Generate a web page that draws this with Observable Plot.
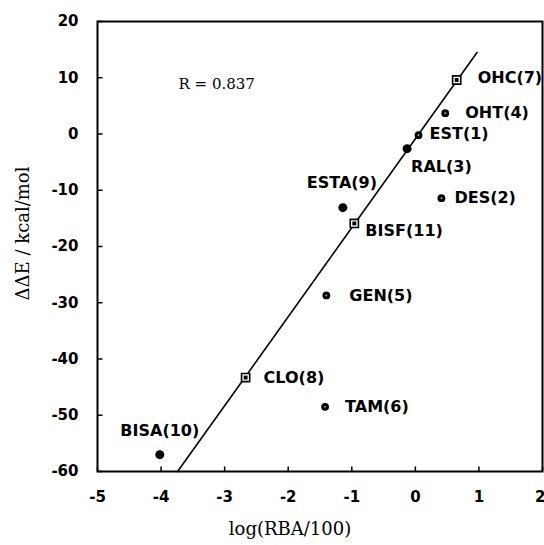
<!DOCTYPE html>
<html>
<head>
<meta charset="utf-8">
<script src="https://cdn.jsdelivr.net/npm/d3@7"></script>
<script src="https://cdn.jsdelivr.net/npm/@observablehq/plot@0.6"></script>
<style>
  html, body { margin: 0; padding: 0; background: #fff; }
  #chart svg { display: block; }
</style>
</head>
<body>
<div id="chart"></div>
<script>
// ---- data ----
const compounds = ["EST(1)", "DES(2)", "RAL(3)", "OHT(4)", "GEN(5)", "TAM(6)", "OHC(7)", "CLO(8)", "ESTA(9)", "BISA(10)", "BISF(11)"];
const logRBA   = [0.05, 0.41, -0.13, 0.47, -1.40, -1.42, 0.65, -2.67, -1.14, -4.02, -0.96];
const deltaE   = [-0.2, -11.4, -2.6, 3.7, -28.7, -48.5, 9.6, -43.3, -13.1, -57.0, -15.9];
const markerKind = ["ring", "ring", "dot", "ring", "ring", "ring", "square", "square", "dot", "dot", "square"];

const fitX = [-3.74, 0.97];
const fitY = [-60, 14.5];

const xTicks = [-5, -4, -3, -2, -1, 0, 1, 2];
const yTicks = [-60, -50, -40, -30, -20, -10, 0, 10, 20];

const rText = "R = 0.837";
const xTitle = "log(RBA/100)";
const yTitle = "\u0394\u0394E / kcal/mol";

// ---- label placement (screen offsets, styling only) ----
const labelPlace = {
  "EST(1)":   {dx: 11, dy: -1, anchor: "start"},
  "DES(2)":   {dx: 13, dy: 0, anchor: "start"},
  "RAL(3)":   {dx: 4, dy: 18, anchor: "start"},
  "OHT(4)":   {dx: 20, dy: 0, anchor: "start"},
  "GEN(5)":   {dx: 23, dy: 0, anchor: "start"},
  "TAM(6)":   {dx: 20, dy: 0, anchor: "start"},
  "OHC(7)":   {dx: 21, dy: -2, anchor: "start"},
  "CLO(8)":   {dx: 18, dy: 0, anchor: "start"},
  "ESTA(9)":  {dx: -1, dy: -25, anchor: "middle"},
  "BISA(10)": {dx: 0, dy: -24, anchor: "middle"},
  "BISF(11)": {dx: 11, dy: 7, anchor: "start"}
};

const points = compounds.map((name, i) => ({name, x: logRBA[i], y: deltaE[i], kind: markerKind[i]}));
const fitLine = fitX.map((x, i) => ({x, y: fitY[i]}));

const labelFont = "DejaVu Sans";
const labelMarks = points.map(p => {
  const pl = labelPlace[p.name];
  return Plot.text([p], {
    x: "x", y: "y", text: "name",
    dx: pl.dx, dy: pl.dy, textAnchor: pl.anchor,
    fontFamily: labelFont, fontWeight: "bold", fontSize: 16, fill: "black"
  });
});

// inward tick symbols
const tickRight = {draw(ctx) { ctx.moveTo(0, 0); ctx.lineTo(5, 0); }};
const tickUp = {draw(ctx) { ctx.moveTo(0, 0); ctx.lineTo(0, -5); }};

const xLabelTicks = xTicks.slice(0, -1);
const xLastTick = xTicks.slice(-1);

const chart = Plot.plot({
  width: 544,
  height: 545,
  marginLeft: 97,
  marginRight: 2,
  marginTop: 21,
  marginBottom: 74,
  style: {fontFamily: "DejaVu Sans", fontSize: "15px", fontWeight: "bold", color: "black", background: "white"},
  x: {domain: [-5, 2]},
  y: {domain: [-60, 20]},
  marks: [
    Plot.axisX({ticks: xLabelTicks, tickSize: 0, tickPadding: 20, tickFormat: d => String(d), label: null, fontSize: 15}),
    Plot.text(xLastTick, {x: d => d, frameAnchor: "bottom", text: d => String(d), textAnchor: "end", dx: 3, dy: 20, lineAnchor: "top",
      fontFamily: "DejaVu Sans", fontWeight: "bold", fontSize: 15}),
    Plot.axisY({ticks: yTicks, tickSize: 0, tickPadding: 19, tickFormat: d => String(d), label: null, fontSize: 15}),
    Plot.dot(yTicks, {y: d => d, frameAnchor: "left", symbol: tickRight, stroke: "black", strokeWidth: 1.5, fill: "none"}),
    Plot.dot(xTicks, {x: d => d, frameAnchor: "bottom", symbol: tickUp, stroke: "black", strokeWidth: 1.5, fill: "none"}),
    Plot.frame({stroke: "black", strokeWidth: 2}),
    Plot.line(fitLine, {x: "x", y: "y", stroke: "black", strokeWidth: 1.6}),
    // open squares with dark centre
    Plot.dot(points.filter(p => p.kind === "square"), {x: "x", y: "y", symbol: "square", r: 4.6, fill: "white", stroke: "black", strokeWidth: 1.6}),
    Plot.dot(points.filter(p => p.kind === "square"), {x: "x", y: "y", symbol: "square", r: 2.2, fill: "black", stroke: "none"}),
    // filled dots
    Plot.dot(points.filter(p => p.kind === "dot"), {x: "x", y: "y", r: 4.5, fill: "black", stroke: "none"}),
    // small rings
    Plot.dot(points.filter(p => p.kind === "ring"), {x: "x", y: "y", r: 3.9, fill: "black", stroke: "none"}),
    Plot.dot(points.filter(p => p.kind === "ring"), {x: "x", y: "y", r: 0.9, fill: "#bbb", stroke: "none"}),
    ...labelMarks,
    Plot.text([rText], {frameAnchor: "top-left", text: d => d, dx: 81, dy: 63, textAnchor: "start", lineAnchor: "middle",
      fontFamily: "DejaVu Serif", fontWeight: "normal", fontSize: 15}),
    Plot.text([xTitle], {frameAnchor: "bottom", text: d => d, dx: -30, dy: 58, textAnchor: "middle", lineAnchor: "middle",
      fontFamily: "DejaVu Serif", fontWeight: "normal", fontSize: 18}),
    Plot.text([yTitle], {frameAnchor: "left", text: d => d, rotate: -90, dx: -74, dy: -13, textAnchor: "middle", lineAnchor: "middle",
      fontFamily: "DejaVu Serif", fontWeight: "normal", fontSize: 18})
  ]
});

document.getElementById("chart").appendChild(chart);
</script>
</body>
</html>
